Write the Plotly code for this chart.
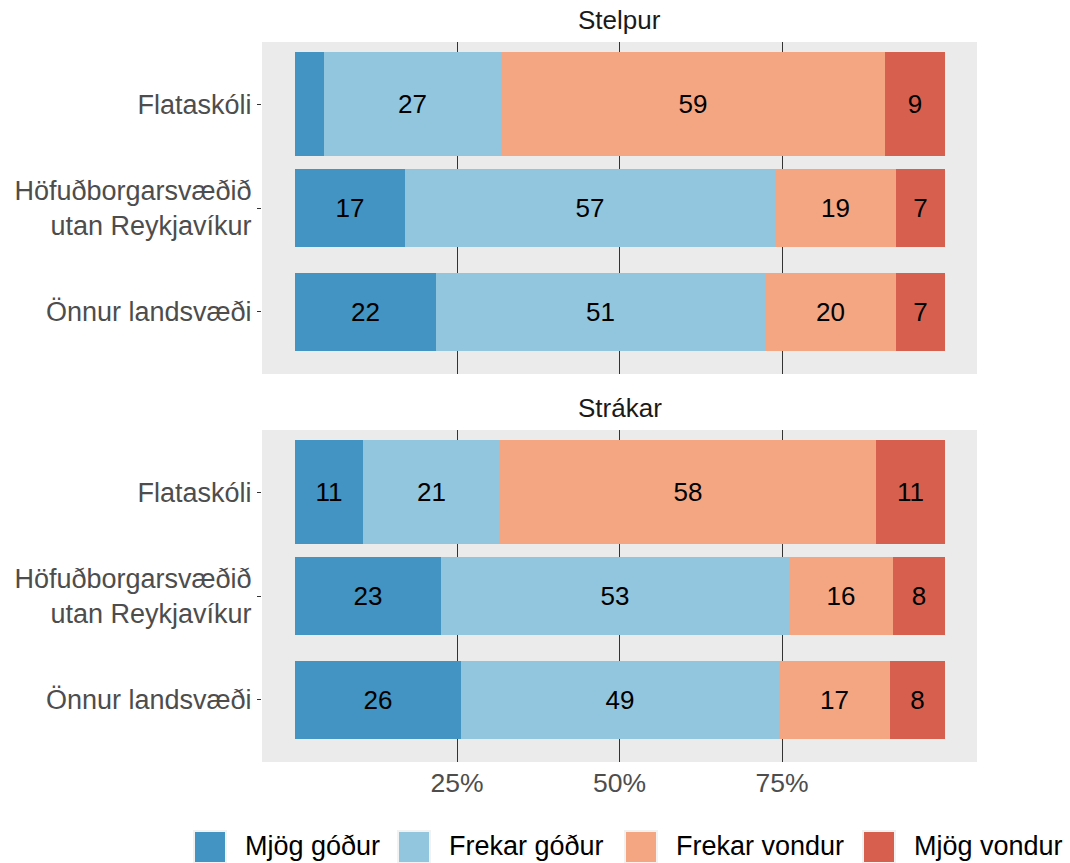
import plotly.graph_objects as go

# ---------------- data ----------------
schools = ["Flataskóli", "Höfuðborgarsvæðið<br>utan Reykjavíkur", "Önnur landsvæði"]
facets = ["Stelpur", "Strákar"]
series_names = ["Mjög góður", "Frekar góður", "Frekar vondur", "Mjög vondur"]
series_colors = ["#4393C3", "#92C5DE", "#F4A582", "#D6604D"]

# Stelpur (percent)
stelpur_mjog_godur = [4.5, 17.0, 21.8]
stelpur_frekar_godur = [27.3, 56.9, 50.6]
stelpur_frekar_vondur = [59.0, 18.7, 20.2]
stelpur_mjog_vondur = [9.2, 7.4, 7.4]

# Strákar (percent)
strakar_mjog_godur = [10.6, 22.6, 25.6]
strakar_frekar_godur = [21.0, 53.4, 49.0]
strakar_frekar_vondur = [57.8, 16.1, 17.0]
strakar_mjog_vondur = [10.6, 7.9, 8.4]

x_tick_values = [25, 50, 75]
x_tick_labels = ["25%", "50%", "75%"]

facet_data = {
    "Stelpur": [stelpur_mjog_godur, stelpur_frekar_godur, stelpur_frekar_vondur, stelpur_mjog_vondur],
    "Strákar": [strakar_mjog_godur, strakar_frekar_godur, strakar_frekar_vondur, strakar_mjog_vondur],
}

# ---------------- layout helpers ----------------
W, H = 1070, 863
FONT = "Liberation Sans"


def px_x(x):
    return x / W


def px_y(y):
    return (H - y) / H


panel_left, panel_right = 262, 977
panels = {"Stelpur": (42, 374), "Strákar": (430, 762)}
axis_ids = {"Stelpur": ("x2", "y2"), "Strákar": ("x", "y")}
bar_widths = [1.0, 0.75, 0.75]

fig = go.Figure()
for facet in facets:
    xa, ya = axis_ids[facet]
    for name, color, vals in zip(series_names, series_colors, facet_data[facet]):
        labels = [str(round(v)) if v >= 5 else "" for v in vals]
        fig.add_trace(go.Bar(
            y=schools, x=vals, orientation="h", width=bar_widths,
            name=name, marker=dict(color=color, line=dict(width=0)),
            text=labels, textposition="inside", insidetextanchor="middle",
            textangle=0, constraintext="none",
            textfont=dict(family=FONT, size=26, color="black"),
            showlegend=False, hoverinfo="skip",
            xaxis=xa, yaxis=ya,
        ))

xdom = [px_x(panel_left), px_x(panel_right)]
common_x = dict(range=[-5, 105], tickvals=x_tick_values, ticktext=x_tick_labels,
                showgrid=True, gridcolor="#333333", gridwidth=1, zeroline=False,
                showline=False, ticks="", fixedrange=True,
                tickfont=dict(family=FONT, size=26.5, color="#4D4D4D"))
common_y = dict(type="category", categoryorder="array", categoryarray=schools,
                range=[2.6, -0.6], showgrid=False, zeroline=False, showline=False,
                ticks="outside", ticklen=4, tickcolor="#333333", tickwidth=1.2,
                tickfont=dict(family=FONT, size=27, color="#4D4D4D"), fixedrange=True)

top_t, top_b = panels["Stelpur"]
bot_t, bot_b = panels["Strákar"]

fig.update_layout(
    width=W, height=H, autosize=False,
    margin=dict(l=0, r=0, t=0, b=0),
    paper_bgcolor="white", plot_bgcolor="#EBEBEB",
    barmode="stack", bargap=0,
    font=dict(family=FONT, size=26, color="#1A1A1A"),
    xaxis=dict(domain=xdom, anchor="y", ticklabelstandoff=2, **common_x),
    yaxis=dict(domain=[px_y(bot_b), px_y(bot_t)], anchor="x", **common_y),
    xaxis2=dict(domain=xdom, anchor="y2", matches="x", showticklabels=False,
                **{k: v for k, v in common_x.items() if k not in ("range",)}),
    yaxis2=dict(domain=[px_y(top_b), px_y(top_t)], anchor="x2", **common_y),
    showlegend=False,
)

# facet strip titles
for facet in facets:
    t, b = panels[facet]
    fig.add_annotation(text=facet, xref="paper", yref="paper",
                       x=px_x((panel_left + panel_right) / 2), y=px_y(t - 21.7),
                       xanchor="center", yanchor="middle", showarrow=False,
                       font=dict(family=FONT, size=26, color="#1A1A1A"))

# legend (drawn manually to get ggplot-sized keys)
key_lefts = [194, 398, 625, 863]
key_size = 32
key_top = 831
for name, color, kx in zip(series_names, series_colors, key_lefts):
    fig.add_shape(type="rect", xref="paper", yref="paper",
                  x0=px_x(kx), x1=px_x(kx + key_size),
                  y0=px_y(key_top + key_size), y1=px_y(key_top),
                  fillcolor=color, line=dict(color="#F2F2F2", width=2), layer="above")
    fig.add_annotation(text=name, xref="paper", yref="paper",
                       x=px_x(kx + key_size + 17), y=px_y(846),
                       xanchor="left", yanchor="middle", showarrow=False,
                       font=dict(family=FONT, size=27, color="black"))

fig.write_html(
    "out.html",
    config={"displayModeBar": False},
    post_script="document.body.style.margin='0';document.body.style.overflow='hidden';",
)
